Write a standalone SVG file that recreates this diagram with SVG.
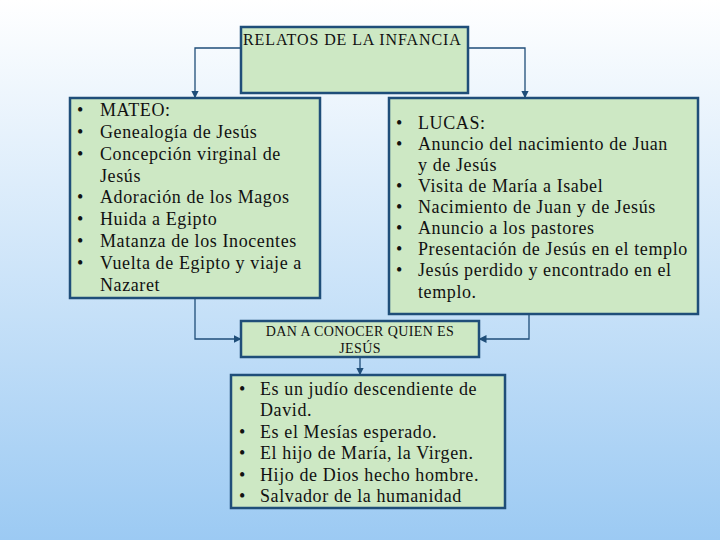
<svg xmlns="http://www.w3.org/2000/svg" width="720" height="540" viewBox="0 0 720 540">
<defs>
<linearGradient id="bg" x1="0" y1="0" x2="0" y2="1"><stop offset="0" stop-color="#ffffff"/><stop offset="1" stop-color="#9ccaf3"/></linearGradient>
<marker id="ar" markerWidth="6" markerHeight="6" refX="5" refY="3" orient="auto"><path d="M0,0L6,3L0,6z" fill="#1f4e79"/></marker>
<style>
.box{fill:#cde8c4;stroke:#1f4e79;stroke-width:2.5}
.t{font-family:"Liberation Serif",serif;font-size:18px;letter-spacing:0.6px;fill:#111}
.s{font-family:"Liberation Serif",serif;font-size:14px;letter-spacing:0.4px;fill:#111}
.c{fill:none;stroke:#1f4e79;stroke-width:1.3;marker-end:url(#ar)}
</style>
</defs>
<rect width="720" height="540" fill="url(#bg)"/>
<g id="connectors">
<path class="c" d="M241,48H195V97"/>
<path class="c" d="M468,48H525V97"/>
<path class="c" d="M195,298V339H240"/>
<path class="c" d="M529,314V339H480"/>
<path class="c" d="M360,357V374"/>
</g>
<g id="top"><rect class="box" x="241" y="27" width="227" height="66"/><text class="s" x="243" y="45" style="font-size:16px;letter-spacing:0.9px">RELATOS DE LA INFANCIA</text></g>
<g id="mateo"><rect class="box" x="70" y="98" width="250" height="200"/>
<text class="t"><tspan x="77" y="116">•</tspan><tspan x="100" y="116">MATEO:</tspan>
<tspan x="77" y="138">•</tspan><tspan x="100" y="138">Genealogía de Jesús</tspan>
<tspan x="77" y="160">•</tspan><tspan x="100" y="160">Concepción virginal de</tspan>
<tspan x="100" y="182">Jesús</tspan>
<tspan x="77" y="203">•</tspan><tspan x="100" y="203">Adoración de los Magos</tspan>
<tspan x="77" y="225">•</tspan><tspan x="100" y="225">Huida a Egipto</tspan>
<tspan x="77" y="247">•</tspan><tspan x="100" y="247">Matanza de los Inocentes</tspan>
<tspan x="77" y="269">•</tspan><tspan x="100" y="269">Vuelta de Egipto y viaje a</tspan>
<tspan x="100" y="291">Nazaret</tspan></text></g>
<g id="lucas"><rect class="box" x="389" y="98" width="309" height="216"/>
<text class="t"><tspan x="396" y="129">•</tspan><tspan x="418" y="129">LUCAS:</tspan>
<tspan x="396" y="150">•</tspan><tspan x="418" y="150">Anuncio del nacimiento de Juan</tspan>
<tspan x="418" y="171">y de Jesús</tspan>
<tspan x="396" y="192">•</tspan><tspan x="418" y="192">Visita de María a Isabel</tspan>
<tspan x="396" y="213">•</tspan><tspan x="418" y="213">Nacimiento de Juan y de Jesús</tspan>
<tspan x="396" y="234">•</tspan><tspan x="418" y="234">Anuncio a los pastores</tspan>
<tspan x="396" y="255">•</tspan><tspan x="418" y="255">Presentación de Jesús en el templo</tspan>
<tspan x="396" y="276">•</tspan><tspan x="418" y="276">Jesús perdido y encontrado en el</tspan>
<tspan x="418" y="298">templo.</tspan></text></g>
<g id="dan"><rect class="box" x="241" y="321" width="238" height="36"/>
<text class="s" text-anchor="middle"><tspan x="360" y="336">DAN A CONOCER QUIEN ES</tspan><tspan x="360" y="353">JESÚS</tspan></text></g>
<g id="jesus"><rect class="box" x="231" y="375" width="274" height="133"/>
<text class="t"><tspan x="239" y="395">•</tspan><tspan x="260" y="395">Es un judío descendiente de</tspan>
<tspan x="260" y="416">David.</tspan>
<tspan x="239" y="438">•</tspan><tspan x="260" y="438">Es el Mesías esperado.</tspan>
<tspan x="239" y="459">•</tspan><tspan x="260" y="459">El hijo de María, la Virgen.</tspan>
<tspan x="239" y="481">•</tspan><tspan x="260" y="481">Hijo de Dios hecho hombre.</tspan>
<tspan x="239" y="502">•</tspan><tspan x="260" y="502">Salvador de la humanidad</tspan></text></g>
</svg>
